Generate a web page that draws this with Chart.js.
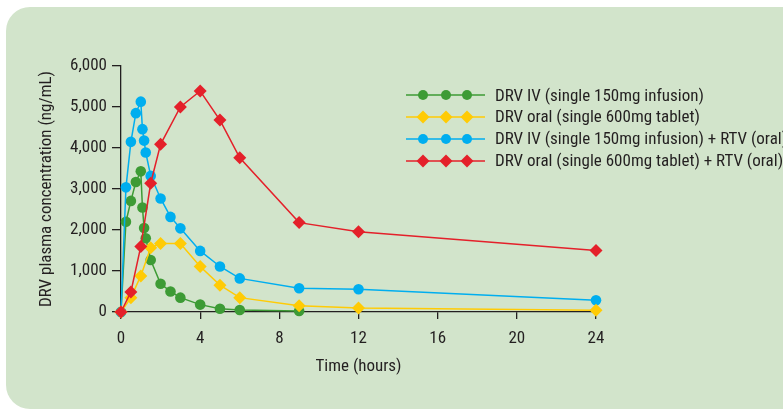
<!DOCTYPE html>
<html>
<head>
<meta charset="utf-8">
<script src="https://cdn.jsdelivr.net/npm/chart.js@4/dist/chart.umd.min.js"></script>
<style>
  html, body { margin: 0; padding: 0; background: #fff; }
  body { width: 783px; height: 411px; overflow: hidden; position: relative; }
  .panel { position: absolute; left: 6px; top: 7px; width: 820px; height: 402px;
           background: #d2e4cb; border-radius: 24px; }
  #wrap { position: absolute; left: 0; top: 0; width: 783px; height: 411px; }
  .legend { position: absolute; left: 406px; top: 84.5px; white-space: nowrap;
            font-family: "Roboto Condensed", "DejaVu Sans Condensed", sans-serif;
            font-size: 17px; color: #231f20; }
  .legend div { height: 21.8px; line-height: 21.8px; display: flex; align-items: center; }
  .legend canvas { margin-right: 10px; }
</style>
</head>
<body>
<div class="panel"></div>
<div id="wrap"><canvas id="chart" width="783" height="411"></canvas></div>
<div class="legend" id="legend"></div>
<script>
// Time points (hours)
const ivTimes = [0, 0.25, 0.5, 0.75, 1, 1.083, 1.167, 1.25, 1.5, 2, 2.5, 3, 4, 5, 6, 9];
const ivRtvTimes = [0, 0.25, 0.5, 0.75, 1, 1.083, 1.167, 1.25, 1.5, 2, 2.5, 3, 4, 5, 6, 9, 12, 24];
const oralTimes = [0, 0.5, 1, 1.5, 2, 3, 4, 5, 6, 9, 12, 24];

// DRV plasma concentration (ng/mL)
const drvIv = [0, 2200, 2710, 3170, 3430, 2550, 2050, 1800, 1270, 690, 500, 350, 180, 80, 50, 25];
const drvOral = [0, 350, 880, 1570, 1670, 1670, 1110, 655, 350, 150, 100, 45];
const drvIvRtv = [0, 3040, 4150, 4850, 5130, 4460, 4180, 3890, 3320, 2770, 2320, 2040, 1490, 1110, 820, 580, 555, 285];
const drvOralRtv = [0, 490, 1600, 3140, 4090, 5000, 5390, 4680, 3760, 2180, 1960, 1500];

const xTicks = [0, 4, 8, 12, 16, 20, 24];
const yTicks = [0, 1000, 2000, 3000, 4000, 5000, 6000];

const labels = [
  "DRV IV (single 150mg infusion)",
  "DRV oral (single 600mg tablet)",
  "DRV IV (single 150mg infusion) + RTV (oral)",
  "DRV oral (single 600mg tablet) + RTV (oral)",
];

const GREEN = "#3d9b35";
const YELLOW = "#ffcb05";
const BLUE = "#00aeef";
const RED = "#e4202a";
const TEXT = "#231f20";
const FONT = '"Roboto Condensed", "DejaVu Sans Condensed", sans-serif';

const pts = (xs, ys) => xs.map((x, i) => ({ x: x, y: ys[i] }));

function series(label, xs, ys, color, style, order) {
  return {
    label: label,
    data: pts(xs, ys),
    borderColor: color,
    backgroundColor: color,
    borderWidth: 1.5,
    pointStyle: style,
    pointRadius: style === "circle" ? 5.3 : 6.5,
    pointBorderWidth: 0,
    pointHoverRadius: 5,
    clip: false,
    order: order,
  };
}

Chart.defaults.font.family = FONT;
Chart.defaults.font.size = 17;
Chart.defaults.color = TEXT;

new Chart(document.getElementById("chart"), {
  type: "line",
  data: {
    datasets: [
      series(labels[0], ivTimes, drvIv, GREEN, "circle", 3),
      series(labels[1], oralTimes, drvOral, YELLOW, "rectRot", 1),
      series(labels[2], ivRtvTimes, drvIvRtv, BLUE, "circle", 2),
      series(labels[3], oralTimes, drvOralRtv, RED, "rectRot", 0),
    ],
  },
  options: {
    responsive: false,
    animation: false,
    layout: { padding: { left: 0, right: 187, top: 66, bottom: 0 } },
    plugins: { legend: { display: false }, tooltip: { enabled: false } },
    scales: {
      x: {
        type: "linear",
        min: 0,
        max: 24,
        afterBuildTicks: (s) => { s.ticks = xTicks.map((v) => ({ value: v })); },
        afterFit: (s) => { s.height = 99; },
        ticks: { padding: 10, color: TEXT },
        grid: { drawOnChartArea: false, tickLength: 7, color: TEXT, lineWidth: 1.3 },
        border: { color: TEXT, width: 1.3 },
        title: { display: true, text: "Time (hours)", color: TEXT, padding: { bottom: 34 } },
      },
      y: {
        min: 0,
        max: 6000,
        afterBuildTicks: (s) => { s.ticks = yTicks.map((v) => ({ value: v })); },
        afterFit: (s) => { s.width = 121; },
        ticks: { padding: 5, color: TEXT, callback: (v) => v.toLocaleString("en-US") },
        grid: { drawOnChartArea: false, tickLength: 9, color: TEXT, lineWidth: 1.3 },
        border: { color: TEXT, width: 1.3 },
        title: { display: true, text: "DRV plasma concentration (ng/mL)", color: TEXT, padding: { top: 37 } },
      },
    },
  },
});

// legend with three markers per entry
const legendStyles = [
  [GREEN, "circle"], [YELLOW, "rectRot"], [BLUE, "circle"], [RED, "rectRot"],
];
const legend = document.getElementById("legend");
legendStyles.forEach(([color, style], i) => {
  const row = document.createElement("div");
  const c = document.createElement("canvas");
  c.width = 79; c.height = 16;
  const ctx = c.getContext("2d");
  ctx.strokeStyle = color; ctx.fillStyle = color; ctx.lineWidth = 1.5;
  ctx.beginPath(); ctx.moveTo(0, 8); ctx.lineTo(79, 8); ctx.stroke();
  [17, 40, 61].forEach((cx) => {
    ctx.beginPath();
    if (style === "circle") {
      ctx.arc(cx, 8, 5, 0, Math.PI * 2);
    } else {
      ctx.moveTo(cx, 1.5); ctx.lineTo(cx + 6.5, 8); ctx.lineTo(cx, 14.5); ctx.lineTo(cx - 6.5, 8); ctx.closePath();
    }
    ctx.fill();
  });
  row.appendChild(c);
  const span = document.createElement("span");
  span.textContent = labels[i];
  row.appendChild(span);
  legend.appendChild(row);
});
</script>
</body>
</html>
